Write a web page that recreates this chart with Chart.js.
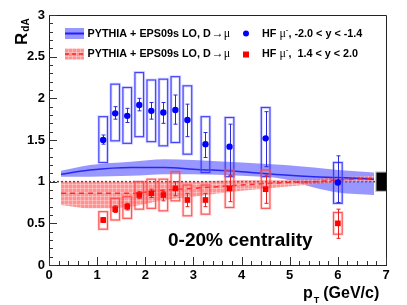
<!DOCTYPE html>
<html>
<head>
<meta charset="utf-8">
<script src="https://cdn.jsdelivr.net/npm/chart.js@4.4.0/dist/chart.umd.min.js"></script>
<style>
  body { margin: 0; background: #fff; }
  canvas { display: block; }
</style>
</head>
<body>
<canvas id="rda" width="407" height="305"></canvas>
<script>
// HF muon data, same pT bins for both rapidity ranges
var ptBins = [1.125, 1.375, 1.625, 1.875, 2.125, 2.375, 2.625, 2.875, 3.25, 3.75, 4.5, 6.0];

// backward (-2.0 < y < -1.4), blue circles
var bwdR      = [1.50, 1.82, 1.79, 1.92, 1.85, 1.83, 1.86, 1.74, 1.45, 1.42, 1.52, 0.99];
var bwdStatLo = [1.45, 1.75, 1.71, 1.85, 1.75, 1.70, 1.69, 1.54, 1.29, 1.07, 1.18, 0.75];
var bwdStatHi = [1.56, 1.90, 1.88, 2.00, 1.95, 1.95, 2.04, 1.93, 1.59, 1.69, 1.84, 1.31];
var bwdSysLo  = [1.23, 1.49, 1.46, 1.54, 1.48, 1.43, 1.47, 1.33, 1.11, 1.06, 1.06, 0.74];
var bwdSysHi  = [1.78, 2.17, 2.13, 2.31, 2.22, 2.23, 2.26, 2.15, 1.78, 1.77, 1.89, 1.23];

// forward (1.4 < y < 2.0), red squares
var fwdR      = [0.54, 0.67, 0.70, 0.84, 0.86, 0.84, 0.92, 0.78, 0.78, 0.92, 0.91, 0.50];
var fwdStatLo = [0.51, 0.63, 0.66, 0.80, 0.81, 0.77, 0.83, 0.70, 0.70, 0.76, 0.74, 0.32];
var fwdStatHi = [0.57, 0.71, 0.74, 0.88, 0.91, 0.88, 1.00, 0.86, 0.86, 1.08, 1.08, 0.67];
var fwdSysLo  = [0.43, 0.54, 0.56, 0.67, 0.68, 0.65, 0.77, 0.59, 0.61, 0.69, 0.68, 0.37];
var fwdSysHi  = [0.64, 0.80, 0.82, 1.00, 1.03, 1.03, 1.12, 0.96, 0.96, 1.14, 1.14, 0.63];
var sysHalfWidth = 0.09;

// PYTHIA + EPS09s LO predictions
var bandPt    = [0.25, 0.85, 1.7, 2.4, 3.0, 4.0, 4.9, 5.5, 6.0, 6.75];
var bwdBandHi = [1.13, 1.20, 1.24, 1.27, 1.26, 1.23, 1.20, 1.17, 1.14, 1.11];
var bwdBandMd = [1.09, 1.14, 1.17, 1.17, 1.15, 1.12, 1.08, 1.06, 1.05, 1.03];
var bwdBandLo = [1.06, 1.06, 1.07, 1.09, 1.09, 1.07, 1.03, 0.93, 0.87, 0.84];
var fwdBandHi = [1.00, 1.00, 1.00, 1.00, 1.00, 1.02, 1.02, 1.03, 1.05, 1.07];
var fwdBandMd = [0.86, 0.86, 0.86, 0.90, 0.92, 0.96, 0.99, 1.00, 1.02, 1.04];
var fwdBandLo = [0.72, 0.68, 0.70, 0.78, 0.82, 0.89, 0.94, 0.97, 0.99, 1.00];

// normalisation uncertainty at R = 1
var normPt = [6.8, 7.0];
var normR  = [0.89, 1.11];

var xTicks = [0, 1, 2, 3, 4, 5, 6, 7];
var xTickLabels = ['0', '1', '2', '3', '4', '5', '6', '7'];
var yTicks = [0, 0.5, 1, 1.5, 2, 2.5, 3];
var yTickLabels = ['0', '0.5', '1', '1.5', '2', '2.5', '3'];

var SANS = "'Liberation Sans', Arial, sans-serif";
var SERIF = "'Liberation Serif', 'Times New Roman', serif";

function pts(xs, ys) {
  return xs.map(function(x, i) { return { x: x, y: ys[i] }; });
}

function makeHatch() {
  var c = document.createElement('canvas');
  c.width = 4; c.height = 4;
  var g = c.getContext('2d');
  g.fillStyle = 'rgba(255,80,80,0.62)';
  g.fillRect(0, 0, 4, 4);
  g.fillStyle = 'rgba(255,255,255,0.3)';
  g.fillRect(0, 0, 4, 1);
  g.fillRect(0, 0, 1, 4);
  return g.createPattern(c, 'repeat');
}
var hatch = makeHatch();
var blueFill = 'rgba(55,55,255,0.52)';

function drawPieces(ctx, x, y, pieces) {
  pieces.forEach(function(p) {
    ctx.font = p.f;
    ctx.fillText(p.t, x, y + (p.dy || 0));
    x += ctx.measureText(p.t).width + (p.gap || 0);
  });
}

function drawBoxes(ctx, sx, sy, lo, hi, line, halo) {
  ptBins.forEach(function(p, i) {
    var x0 = sx.getPixelForValue(p - sysHalfWidth), x1 = sx.getPixelForValue(p + sysHalfWidth);
    var y0 = sy.getPixelForValue(hi[i]), y1 = sy.getPixelForValue(lo[i]);
    ctx.strokeStyle = halo; ctx.lineWidth = 3;
    ctx.strokeRect(x0, y0, x1 - x0, y1 - y0);
    ctx.strokeStyle = line; ctx.lineWidth = 1.2;
    ctx.strokeRect(x0, y0, x1 - x0, y1 - y0);
  });
}

function drawErrors(ctx, sx, sy, lo, hi, color) {
  ctx.strokeStyle = color; ctx.lineWidth = 1;
  ptBins.forEach(function(p, i) {
    var x = Math.round(sx.getPixelForValue(p)) + 0.5;
    var y0 = sy.getPixelForValue(hi[i]), y1 = sy.getPixelForValue(lo[i]);
    ctx.beginPath();
    ctx.moveTo(x, y0); ctx.lineTo(x, y1);
    ctx.moveTo(x - 2, y0); ctx.lineTo(x + 2, y0);
    ctx.moveTo(x - 2, y1); ctx.lineTo(x + 2, y1);
    ctx.stroke();
  });
}

var rootStyle = {
  id: 'rootStyle',
  beforeDatasetDraw: function(chart, args) {
    if (chart.data.datasets[args.index].id !== 'bwdPoints') return;
    var ctx = chart.ctx, sx = chart.scales.x, sy = chart.scales.y;
    ctx.save();
    drawBoxes(ctx, sx, sy, bwdSysLo, bwdSysHi, 'rgba(50,50,255,0.9)', 'rgba(110,110,255,0.25)');
    drawBoxes(ctx, sx, sy, fwdSysLo, fwdSysHi, 'rgba(255,70,70,0.9)', 'rgba(255,110,110,0.25)');
    drawErrors(ctx, sx, sy, bwdStatLo, bwdStatHi, '#2a2ad8');
    drawErrors(ctx, sx, sy, fwdStatLo, fwdStatHi, '#e82020');
    ctx.restore();
  },
  afterDraw: function(chart) {
    var ctx = chart.ctx, a = chart.chartArea, sx = chart.scales.x, sy = chart.scales.y;
    ctx.save();

    // normalisation box
    var nx0 = sx.getPixelForValue(normPt[0]), nx1 = sx.getPixelForValue(normPt[1]);
    var ny0 = sy.getPixelForValue(normR[1]), ny1 = sy.getPixelForValue(normR[0]);
    ctx.fillStyle = '#000';
    ctx.fillRect(nx0, ny0, nx1 - nx0, ny1 - ny0);
    ctx.strokeStyle = 'rgba(0,0,0,0.3)'; ctx.lineWidth = 1;
    ctx.strokeRect(nx0 - 0.5, ny0 - 0.5, nx1 - nx0 + 1, ny1 - ny0 + 1);

    // frame
    ctx.strokeStyle = '#222'; ctx.lineWidth = 1;
    ctx.beginPath();
    ctx.moveTo(a.left, a.top + 0.5); ctx.lineTo(a.right + 0.5, a.top + 0.5); ctx.lineTo(a.right + 0.5, a.bottom);
    ctx.stroke();

    // inward ticks
    ctx.strokeStyle = '#333';
    ctx.beginPath();
    for (var i = 0; i <= 30; i++) {
      var y = Math.round(sy.getPixelForValue(i / 10)) + 0.5;
      var len = (i % 5 === 0) ? 8 : 4;
      ctx.moveTo(a.left, y); ctx.lineTo(a.left + len, y);
    }
    for (var j = 0; j <= 35; j++) {
      var x = Math.round(sx.getPixelForValue(j / 5)) + 0.5;
      var lx = (j % 5 === 0) ? 8 : 4;
      ctx.moveTo(x, a.bottom); ctx.lineTo(x, a.bottom - lx);
    }
    ctx.stroke();

    ctx.fillStyle = '#000';
    ctx.textAlign = 'left';
    ctx.textBaseline = 'alphabetic';

    // y title R_dA
    ctx.save();
    ctx.translate(27, 45);
    ctx.rotate(-Math.PI / 2);
    drawPieces(ctx, 0, 0, [
      { t: 'R', f: 'bold 17px ' + SANS, gap: 1 },
      { t: 'dA', f: 'bold 10px ' + SANS, dy: 2 }
    ]);
    ctx.restore();

    // x title p_T (GeV/c)
    drawPieces(ctx, 303, 297.5, [
      { t: 'p', f: 'bold 16px ' + SANS, gap: 1 },
      { t: 'T', f: 'bold 9px ' + SANS, dy: 5, gap: 4 },
      { t: '(GeV/c)', f: 'bold 16px ' + SANS }
    ]);

    // centrality label
    ctx.font = 'bold 19px ' + SANS;
    ctx.fillText('0-20% centrality', 168, 246);

    // legend symbols
    ctx.fillStyle = blueFill;
    ctx.fillRect(65, 28, 19, 11);
    ctx.strokeStyle = '#2020ff'; ctx.lineWidth = 2;
    ctx.beginPath(); ctx.moveTo(65, 33.5); ctx.lineTo(84, 33.5); ctx.stroke();
    ctx.fillStyle = hatch;
    ctx.fillRect(65, 48.5, 19, 11);
    ctx.strokeStyle = '#ff2020'; ctx.lineWidth = 1.5;
    ctx.setLineDash([4, 3]);
    ctx.beginPath(); ctx.moveTo(65, 54); ctx.lineTo(84, 54); ctx.stroke();
    ctx.setLineDash([]);
    ctx.fillStyle = '#0000ff';
    ctx.beginPath(); ctx.arc(246, 33.5, 3, 0, 2 * Math.PI); ctx.fill();
    ctx.fillStyle = '#ff0000';
    ctx.fillRect(243, 51.5, 6, 6);

    // legend texts
    ctx.fillStyle = '#000';
    var lb = 'bold 10.8px ' + SANS, ls = '12px ' + SERIF;
    [36.5, 57].forEach(function(by) {
      drawPieces(ctx, 87.5, by, [
        { t: 'PYTHIA + EPS09s LO, D', f: lb, gap: 1 },
        { t: '\u2192\u03bc', f: ls }
      ]);
    });
    drawPieces(ctx, 262, 36.5, [
      { t: 'HF ', f: lb },
      { t: '\u03bc', f: ls },
      { t: '-', f: '8px ' + SERIF, dy: -4 },
      { t: ', -2.0 < y < -1.4', f: lb }
    ]);
    drawPieces(ctx, 262, 57, [
      { t: 'HF ', f: lb },
      { t: '\u03bc', f: ls },
      { t: '-', f: '8px ' + SERIF, dy: -4 },
      { t: ',  1.4 < y < 2.0', f: lb }
    ]);
    ctx.restore();
  }
};

var chart = new Chart(document.getElementById('rda'), {
  type: 'line',
  data: {
    datasets: [
      { id: 'fwdPoints', data: pts(ptBins, fwdR), showLine: false, order: 0,
        pointStyle: 'rect', pointRadius: 4, backgroundColor: '#ff0000', borderWidth: 0 },
      { id: 'bwdPoints', data: pts(ptBins, bwdR), showLine: false, order: 1,
        pointStyle: 'circle', pointRadius: 3.2, backgroundColor: '#0000ff', borderWidth: 0 },
      { id: 'fwdLine', data: pts(bandPt, fwdBandMd), order: 3, pointRadius: 0,
        borderColor: 'rgba(255,30,30,0.9)', borderWidth: 1.5, borderDash: [5, 4],
        tension: 0.4, cubicInterpolationMode: 'monotone', fill: false },
      { id: 'bwdLine', data: pts(bandPt, bwdBandMd), order: 4, pointRadius: 0,
        borderColor: '#2828f0', borderWidth: 1.5,
        tension: 0.4, cubicInterpolationMode: 'monotone', fill: false },
      { id: 'fwdHi', data: pts(bandPt, fwdBandHi), order: 5, pointRadius: 0, borderWidth: 0,
        borderColor: 'rgba(0,0,0,0)', backgroundColor: hatch, fill: '+1',
        cubicInterpolationMode: 'monotone' },
      { id: 'fwdLo', data: pts(bandPt, fwdBandLo), order: 5, pointRadius: 0, borderWidth: 0,
        borderColor: 'rgba(0,0,0,0)', fill: false, cubicInterpolationMode: 'monotone' },
      { id: 'bwdHi', data: pts(bandPt, bwdBandHi), order: 6, pointRadius: 0, borderWidth: 0,
        borderColor: 'rgba(0,0,0,0)', backgroundColor: blueFill, fill: '+1',
        cubicInterpolationMode: 'monotone' },
      { id: 'bwdLo', data: pts(bandPt, bwdBandLo), order: 6, pointRadius: 0, borderWidth: 0,
        borderColor: 'rgba(0,0,0,0)', fill: false, cubicInterpolationMode: 'monotone' },
      { id: 'unity', data: [{ x: 0, y: 1 }, { x: 7, y: 1 }], order: 8, pointRadius: 0,
        borderColor: '#444', borderWidth: 1.5, borderDash: [2, 2], fill: false }
    ]
  },
  options: {
    responsive: false,
    animation: false,
    events: [],
    layout: { padding: { top: 15, right: 21, left: 0, bottom: 0 } },
    plugins: { legend: { display: false }, tooltip: { enabled: false } },
    scales: {
      x: {
        type: 'linear', min: 0, max: 7,
        afterFit: function(s) { s.height = 40; },
        afterBuildTicks: function(s) { s.ticks = xTicks.map(function(v) { return { value: v }; }); },
        ticks: {
          callback: function(v, i) { return xTickLabels[i]; },
          font: { family: SANS, size: 13, weight: 'bold' }, color: '#000',
          padding: 3, maxRotation: 0, autoSkip: false
        },
        grid: { drawOnChartArea: false, drawTicks: false },
        border: { color: '#222', width: 1 }
      },
      y: {
        type: 'linear', min: 0, max: 3,
        afterFit: function(s) { s.width = 49; },
        afterBuildTicks: function(s) { s.ticks = yTicks.map(function(v) { return { value: v }; }); },
        ticks: {
          callback: function(v, i) { return yTickLabels[i]; },
          font: { family: SANS, size: 13, weight: 'bold' }, color: '#000',
          padding: 4, autoSkip: false
        },
        grid: { drawOnChartArea: false, drawTicks: false },
        border: { color: '#222', width: 1 }
      }
    }
  },
  plugins: [rootStyle]
});
</script>
</body>
</html>
